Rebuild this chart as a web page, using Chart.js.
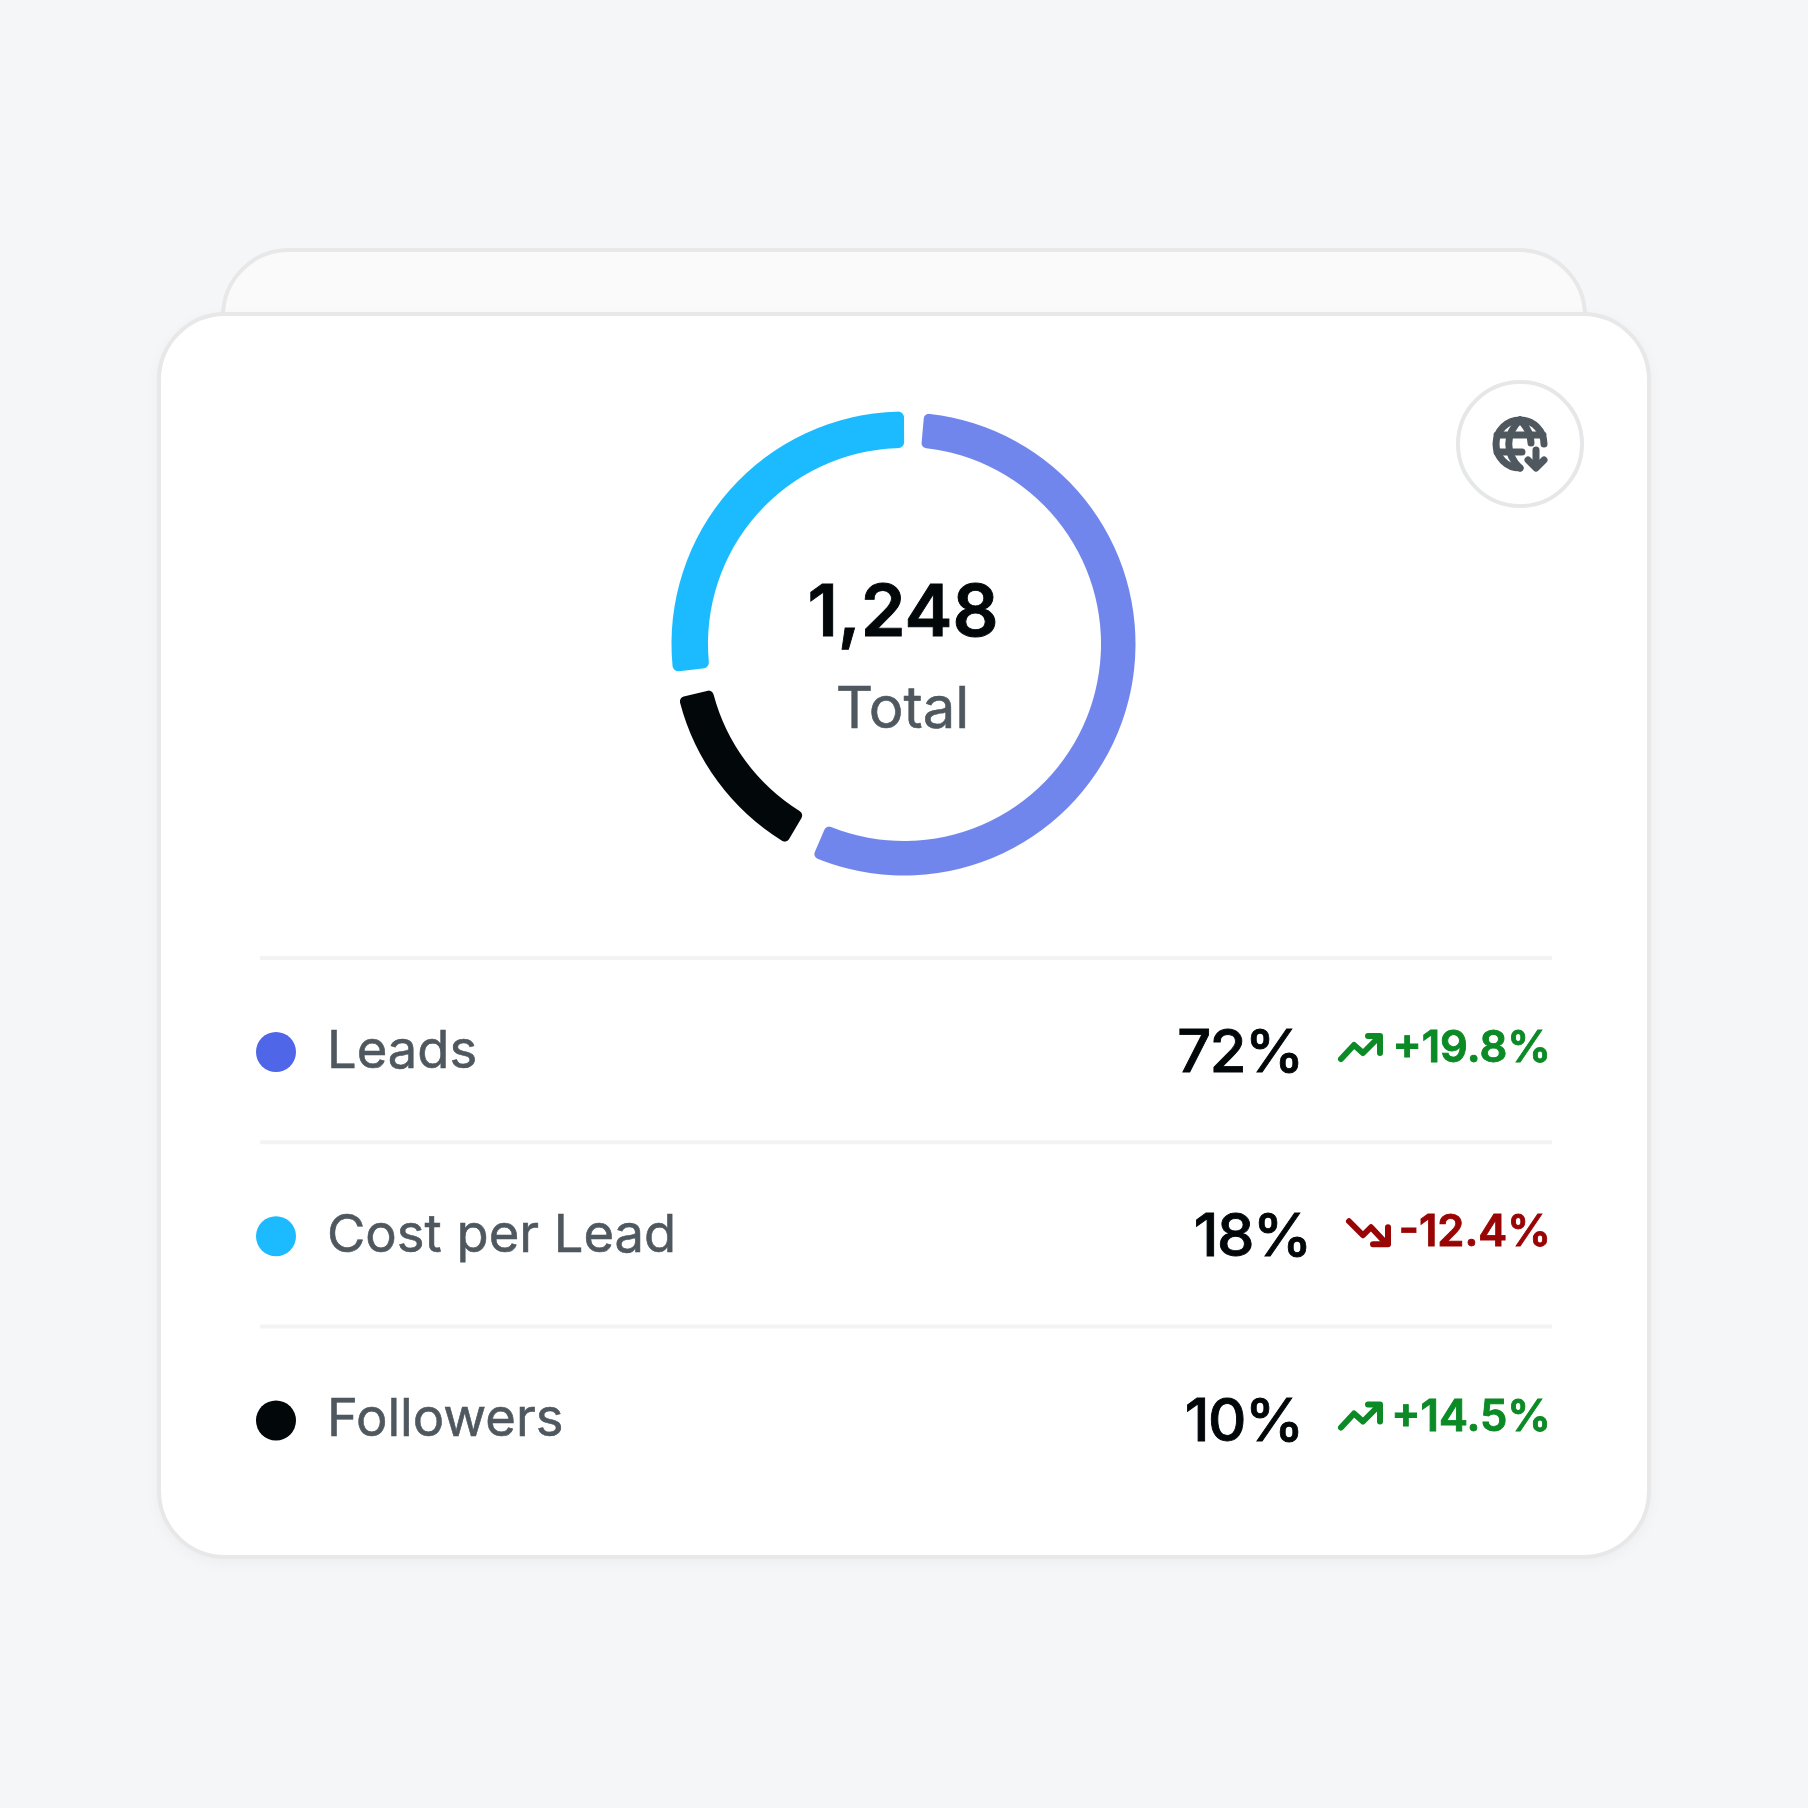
<!DOCTYPE html>
<html>
<head>
<meta charset="utf-8">
<script src="https://cdn.jsdelivr.net/npm/chart.js@4"></script>
<style>
html,body{margin:0;padding:0;width:1808px;height:1808px;background:#F5F6F8;overflow:hidden;font-family:Inter,sans-serif}
.back{position:absolute;left:221px;top:248px;width:1366px;height:120px;box-sizing:border-box;background:#FAFAFA;border:4px solid #E8E8E8;border-radius:68px 68px 0 0}
.card{position:absolute;left:157px;top:312px;width:1494px;height:1247px;box-sizing:border-box;background:#fff;border:4px solid #E8E8E8;border-radius:68px;box-shadow:0 4px 14px rgba(0,0,0,.035)}
.btn{position:absolute;left:1456px;top:380px;width:128px;height:128px;box-sizing:border-box;border:4px solid #E6E7E8;border-radius:50%}
.wrap{position:absolute;left:664px;top:404px;width:480px;height:480px}
svg.ov{position:absolute;left:0;top:0}
</style>
</head>
<body>
<div class="back"></div>
<div class="card"></div>
<div class="btn"></div>
<div class="wrap"><canvas id="c" width="480" height="480"></canvas></div>
<svg class="ov" id="ov" width="1808" height="1808" xmlns="http://www.w3.org/2000/svg"></svg>
<script>
const categories = ['Leads', 'Cost per Lead', 'Followers'];
const shares = ['72%', '18%', '10%'];
const changes = ['+19.8%', '-12.4%', '+14.5%'];
const totalLabel = 'Total';
const totalValue = '1,248';
// ring sweep of each visible arc and of the gap after it, clockwise from the Leads arc
const ringOrder = ['Leads', 'Followers', 'Cost per Lead'];
const ringArcs = [198.2, 46.1, 96.4];
const ringGaps = [7.3, 6.75, 5.25];
const arcColors = {'Leads':'#7086EC','Cost per Lead':'#1CBBFF','Followers':'#02070A'};
const dotColors = ['#4F66E9','#1CBBFF','#02070A'];

const ringLabels = [], ringData = [], ringColors = [], ringBorders = [];
ringOrder.forEach((n,i)=>{
  ringLabels.push(n,''); ringData.push(ringArcs[i],ringGaps[i]);
  ringColors.push(arcColors[n],'rgba(0,0,0,0)');
  ringBorders.push(n==='Cost per Lead'?2:0,0);
});
new Chart(document.getElementById('c'),{
  type:'doughnut',
  data:{labels:ringLabels,datasets:[{data:ringData,backgroundColor:ringColors,borderColor:ringColors,borderWidth:ringBorders,borderJoinStyle:'round',borderRadius:5,spacing:0,hoverOffset:0}]},
  options:{responsive:false,devicePixelRatio:2,animation:false,rotation:5,cutout:'85.1%',layout:{padding:7.5},plugins:{legend:{display:false},tooltip:{enabled:false}}}
});

const ov = document.getElementById('ov');
const NS = 'http://www.w3.org/2000/svg';
function el(tag,attrs,txt){const e=document.createElementNS(NS,tag);for(const k in attrs)e.setAttribute(k,attrs[k]);if(txt!=null)e.textContent=txt;ov.appendChild(e);return e;}
function text(s,x,y,size,weight,fill,anchor,stroke,ls){return el('text',{x,y,'font-size':size,'font-weight':weight,fill,stroke:fill,'stroke-width':stroke||0,'letter-spacing':ls||0,'text-anchor':anchor||'start','font-family':'Inter'},s);}

text(totalValue,903,636,72,600,'#02070A','middle',0.9);
text(totalLabel,902.5,727.5,58,400,'#4F585F','middle',0.6);

const rowStep = 184.25;
[0,1,2].forEach(i=>{ el('rect',{x:260,y:956+i*rowStep,width:1292,height:4,fill:'#F3F3F3'}); });
const up = changes.map(c=>c[0]==='+');
categories.forEach((n,i)=>{
  const d=i*rowStep;
  el('circle',{cx:276,cy:1052+d,r:20,fill:dotColors[i]});
  text(n,327,1067.5+d,52.5,400,'#4F585F','start',0.6);
  text(shares[i],[1302.5,1310.5,1302.5][i],1072+d,59.5,500,'#02070A','end',0.9,-1.5);
  const col = up[i]?'#0B8A26':'#990404';
  text(changes[i],1551,1062+d,43.5,600,col,'end',0.9);
  const g=el('g',{transform:'translate(1,'+d+')',fill:'none',stroke:col,'stroke-width':6,'stroke-linecap':'round','stroke-linejoin':'round'});
  const p=up[i]?['M1340 1059L1353 1045L1362 1053L1377 1038','M1367 1036L1379 1036L1379 1053']:['M1348 1037L1362 1051L1370 1043L1385 1059','M1372 1060L1387 1060L1387 1043'];
  p.forEach(s=>{const q=document.createElementNS(NS,'path');q.setAttribute('d',s);g.appendChild(q);});
});
const ic=el('g',{fill:'none',stroke:'#4F585F','stroke-width':7,'stroke-linecap':'round','stroke-linejoin':'round'});
['M1544 444A24 24 0 1 0 1520 468','M1497 435H1543','M1497 452H1522','M1520 420C1505 434 1505 454 1520 468','M1520 420C1528 428 1531 436 1531 443','M1536 450V467','M1528 460L1536 468L1544 460'].forEach(s=>{const q=document.createElementNS(NS,'path');q.setAttribute('d',s);ic.appendChild(q);});
</script>
</body>
</html>
